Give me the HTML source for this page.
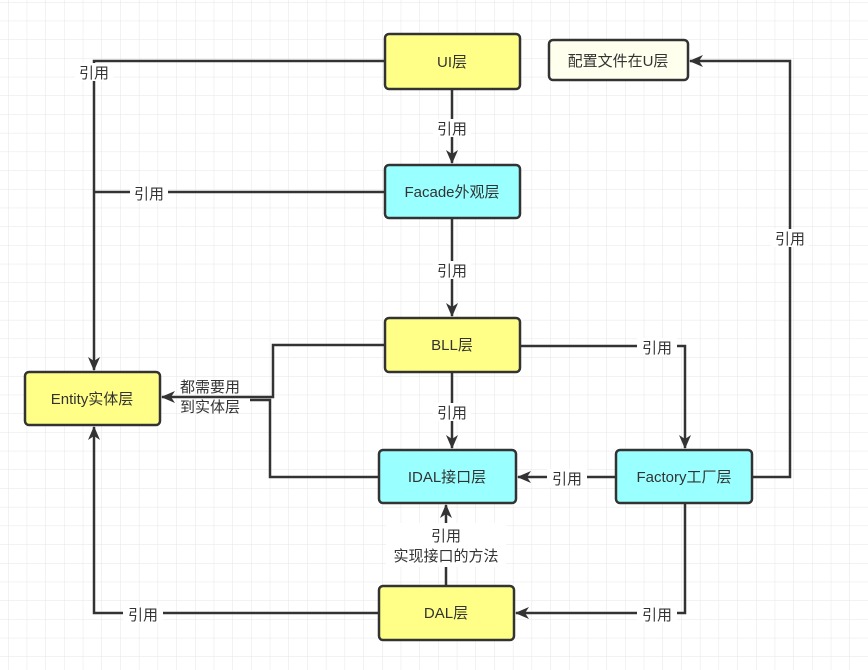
<!DOCTYPE html>
<html><head><meta charset="utf-8"><style>
html,body{margin:0;padding:0;background:#fff;}
svg{display:block;}
text{font-family:"Liberation Sans","Noto Sans CJK SC",sans-serif;font-size:15px;fill:#333;}
</style></head><body>
<svg width="868" height="670" viewBox="0 0 868 670" xmlns="http://www.w3.org/2000/svg">
<defs>
<pattern id="g" x="8" y="2" width="18.7" height="18.7" patternUnits="userSpaceOnUse">
<path d="M0 0H18.7M0 0V18.7" stroke="#e6e6e6" stroke-width="1" fill="none"/>
</pattern>
<marker id="a" markerWidth="14" markerHeight="12" refX="13" refY="6" orient="auto" markerUnits="userSpaceOnUse">
<path d="M0,0 L14,6 L0,12 L4,6 Z" fill="#333"/>
</marker>
</defs>
<rect width="868" height="670" fill="url(#g)"/>
<g stroke="#333" stroke-width="2.5" fill="none">
<path d="M385 61H94V370" marker-end="url(#a)"/>
<path d="M385 192H94"/>
<path d="M452 89V163" marker-end="url(#a)"/>
<path d="M452 218V316" marker-end="url(#a)"/>
<path d="M385 345H273V397H162" marker-end="url(#a)"/>
<path d="M379 477H270V400H250"/>
<path d="M452 372V448" marker-end="url(#a)"/>
<path d="M520 346H685V448" marker-end="url(#a)"/>
<path d="M616 477H518" marker-end="url(#a)"/>
<path d="M752 477H790V61H690" marker-end="url(#a)"/>
<path d="M685 503V613H516" marker-end="url(#a)"/>
<path d="M446 586V505" marker-end="url(#a)"/>
<path d="M379 613H94V427" marker-end="url(#a)"/>
</g>
<g>
<rect x="75" y="63" width="38" height="18" fill="#fff"/><text x="94" y="78" text-anchor="middle">引用</text>
<rect x="130" y="184" width="38" height="18" fill="#fff"/><text x="149" y="199" text-anchor="middle">引用</text>
<rect x="433" y="119" width="38" height="18" fill="#fff"/><text x="452" y="134" text-anchor="middle">引用</text>
<rect x="433" y="261" width="38" height="18" fill="#fff"/><text x="452" y="276" text-anchor="middle">引用</text>
<rect x="433" y="403" width="38" height="18" fill="#fff"/><text x="452" y="418" text-anchor="middle">引用</text>
<rect x="637" y="338" width="40" height="18" fill="#fff"/><text x="657" y="353" text-anchor="middle">引用</text>
<rect x="547" y="469" width="40" height="18" fill="#fff"/><text x="567" y="484" text-anchor="middle">引用</text>
<rect x="771" y="229" width="38" height="18" fill="#fff"/><text x="790" y="244" text-anchor="middle">引用</text>
<rect x="637" y="605" width="40" height="18" fill="#fff"/><text x="657" y="620" text-anchor="middle">引用</text>
<rect x="123" y="605" width="40" height="18" fill="#fff"/><text x="143" y="620" text-anchor="middle">引用</text>
<rect x="386" y="523" width="120" height="44" fill="#fff"/>
<text x="446" y="541" text-anchor="middle">引用</text>
<text x="446" y="561" text-anchor="middle">实现接口的方法</text>
<text x="210" y="392" text-anchor="middle">都需要用</text>
<text x="210" y="412" text-anchor="middle">到实体层</text>
</g>
<g stroke="#333" stroke-width="2.5">
<rect x="385" y="34" width="135" height="55" rx="4" fill="#ffff88"/>
<rect x="549" y="40" width="139" height="40" rx="4" fill="#ffffee"/>
<rect x="385" y="165" width="135" height="53" rx="4" fill="#99ffff"/>
<rect x="385" y="318" width="135" height="54" rx="4" fill="#ffff88"/>
<rect x="25" y="372" width="135" height="53" rx="4" fill="#ffff88"/>
<rect x="379" y="450" width="137" height="53" rx="4" fill="#99ffff"/>
<rect x="616" y="450" width="136" height="53" rx="4" fill="#99ffff"/>
<rect x="379" y="586" width="135" height="54" rx="4" fill="#ffff88"/>
</g>
<g text-anchor="middle">
<text x="452" y="67">UI层</text>
<text x="618" y="66">配置文件在U层</text>
<text x="452" y="197">Facade外观层</text>
<text x="452" y="350">BLL层</text>
<text x="92" y="404">Entity实体层</text>
<text x="447" y="482">IDAL接口层</text>
<text x="684" y="482">Factory工厂层</text>
<text x="446" y="618">DAL层</text>
</g>
</svg>
</body></html>
